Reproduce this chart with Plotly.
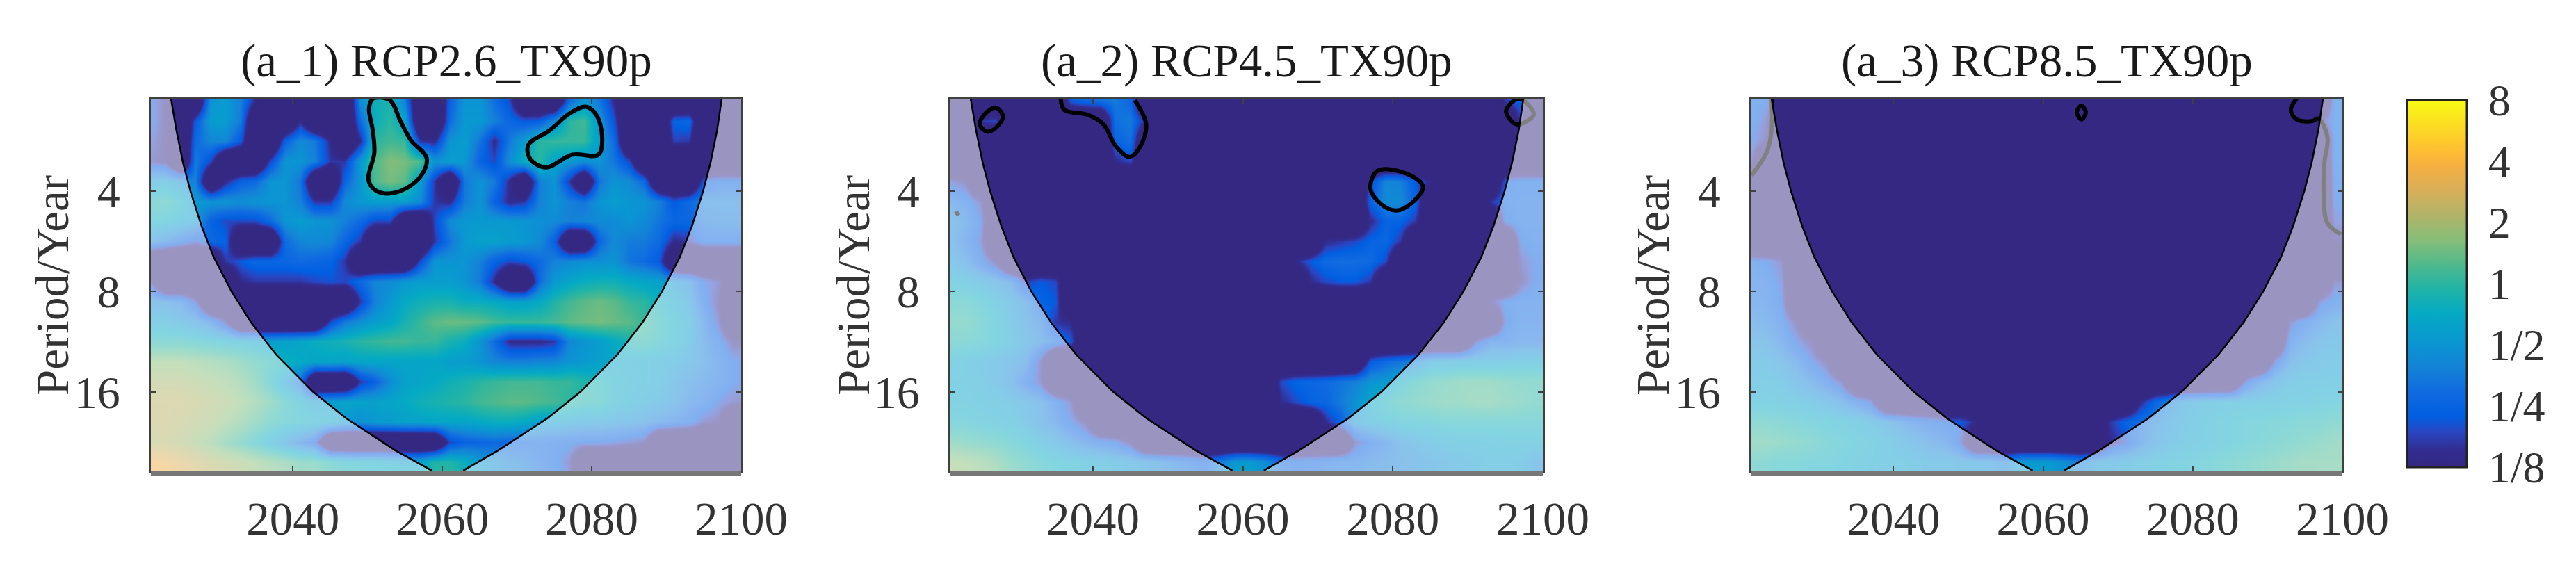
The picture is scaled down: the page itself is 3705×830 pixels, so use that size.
import numpy as np
import plotly.graph_objects as go

# log2 of wavelet power, rows = log2(period), columns = year
years = list(range(2021, 2101, 2))
log2_period = [1.1, 1.3, 1.5, 1.7, 1.9, 2.1, 2.3, 2.5, 2.7, 2.9, 3.1, 3.3, 3.5, 3.7, 3.9, 4.1, 4.3, 4.5, 4.7, 4.9]

power_26 = [
    [-2.2,-2.8,-3,-3,-1.0,-0.8,-1.4,-2.8,-3,-3,-3,-3,-3,-3,-1.2,-0.3,-0.2,-1.4,-3,-3,-2,-1,-1,-1.7,-2.4,-3,-3,-3,-1.8,-1.0,-1.6,-2.8,-3,-3,-3,-3,-3,-3,-3,-3],
    [-2.2,-2.8,-3,-2.2,-0.8,-0.8,-1.5,-3,-3,-3,-2.8,-3,-3,-3,-1.8,-0.4,0,-0.6,-3,-3,-1.8,-0.9,-0.9,-1.4,-1.9,-2.2,-2.1,-1.2,0,0.2,-1.0,-2.3,-3,-3,-3,-2.0,-1.9,-3,-3,-3],
    [-2.4,-2.8,-3,-1.8,-1.3,-1.3,-2.2,-3,-3,-2.0,-1.2,-1.5,-2.8,-3,-2.8,0,0.2,0.1,-2.6,-2.8,-1.0,-0.8,-1.6,-2.8,-1.5,-0.8,0,0.1,0.1,0.1,-0.8,-1.8,-3,-3,-3,-2.5,-2.6,-3,-3,-3],
    [-2.6,-2.8,-3,-1.5,-2.4,-3,-3,-3,-2.4,-1.0,-1.0,-1.4,-2.6,-2.6,-0.9,0.3,0.7,0.6,0.3,-1.0,-0.8,-0.9,-2.0,-2.4,-1.1,-0.4,0,-0.7,-0.9,-1.1,-1.0,-1.6,-2.4,-3,-3,-3,-3,-3,-3,-3],
    [-0.8,-0.8,-1.2,-1.4,-3,-2.8,-2,-1.8,-1,-1,-1.6,-3,-3,-1.9,-1.0,0.3,0.6,0.4,-0.8,-2.6,-3,-1.6,-1,-1.5,-2.8,-3,-1.4,-1,-2.6,-3,-1.6,-1.0,-1.2,-1.8,-3,-3,-3,-2.2,-2,-2],
    [-0.2,-0.1,-0.4,-0.9,-1,-1,-1.1,-1,-1,-1,-1.4,-2.6,-2.6,-1.2,-0.9,-0.8,-0.8,-0.8,-1.2,-2.6,-2.8,-1.5,-1,-2,-2.8,-2.6,-1.4,-1,-1.4,-1.6,-1,-0.8,-1,-1,-1.4,-2.2,-1.8,-1.4,-1.4,-1.4],
    [-0.4,-0.5,-0.7,-0.9,-2,-2.4,-2.4,-2.4,-1.8,-1,-0.8,-1,-1,-1.4,-1.8,-2.4,-2.4,-3,-3,-2.4,-1.2,-0.9,-0.9,-0.9,-0.9,-1,-1.1,-1.2,-1.4,-1.3,-1.2,-1.2,-1,-1.2,-1.6,-1.9,-1.9,-1.6,-1.5,-1.5],
    [-1.2,-1.6,-2.0,-2.4,-1.9,-2,-3,-3,-3,-1.8,-1.3,-1.2,-1.3,-1.9,-2.6,-3,-3,-3,-3,-2.6,-1.6,-0.9,-0.7,-0.7,-0.8,-0.9,-1.2,-2,-3,-3,-1.9,-1.2,-1.5,-1.5,-1.8,-2.8,-2.6,-2,-2,-2],
    [-3,-3,-3,-3,-3,-2.6,-2.2,-1.9,-1.9,-1.9,-1.8,-1.9,-2,-2.6,-3,-3,-3,-3,-2.4,-1,-1,-1,-1.4,-2,-2.4,-2.2,-1.8,-1.4,-1.2,-1.1,-1.1,-1,-1.6,-1.8,-2.2,-3,-3,-3,-3,-3],
    [-2.6,-3,-3,-3,-3,-3,-2.8,-2.6,-2.6,-2.6,-2.6,-2.4,-2.3,-2.4,-1.8,-1.3,-1.2,-0.9,-0.8,-0.8,-0.8,-1,-1.5,-2.8,-3,-3,-1.8,-0.9,-0.6,-0.4,-0.3,-0.3,-0.5,-0.6,-0.7,-1,-1.3,-2.2,-2.6,-3],
    [-1.2,-1.4,-1.6,-2.4,-3,-3,-3,-3,-3,-3,-3,-3,-3,-3,-2.6,-1.4,-0.9,-0.5,-0.3,-0.2,-0.2,-0.4,-0.4,-0.5,-0.7,-0.7,-0.5,-0.1,0.2,0.4,0.5,0.4,0.1,0,-0.4,-0.7,-1,-2,-2.8,-3],
    [-0.8,-0.8,-1,-1.2,-1.7,-2.6,-3,-3,-3,-3,-3,-3,-2.4,-1.5,-1.1,-0.8,-0.6,-0.2,0.1,0.4,0.5,0.5,0.4,0.2,0.1,0.1,0.1,0.2,0.4,0.5,0.6,0.5,0.4,0.1,-0.2,-0.5,-0.8,-1.6,-2.6,-3],
    [-0.2,-0.2,-0.2,-0.3,-0.4,-0.5,-0.6,-0.7,-0.8,-0.7,-0.6,-0.4,-0.3,-0.2,0,0.1,0.2,0.2,0.1,0.1,-0.2,-0.4,-1,-1.8,-2.8,-2.8,-2.8,-2.6,-1.3,-1,-0.8,-0.5,-0.2,-0.1,-0.3,-0.5,-0.9,-1.5,-2,-2.8],
    [0.7,0.7,0.7,0.6,0.5,0.4,0.2,0,-0.2,-0.4,-0.5,-0.6,-0.6,-0.7,-0.6,-0.6,-0.6,-0.6,-0.6,-0.6,-0.8,-0.8,-1,-1.3,-1.4,-1.4,-1.3,-1.3,-1,-0.9,-0.7,-0.6,-0.7,-0.7,-0.8,-0.9,-1.1,-1.4,-1.8,-2.2],
    [1.0,1.0,1.0,0.9,0.8,0.7,0.5,0.2,-0.3,-0.9,-1.7,-3,-3,-3,-2.6,-2,-1.2,-0.7,-0.6,-0.5,-0.3,-0.2,0,0.1,0.2,0.2,0.2,0.1,0.1,-0.1,-0.3,-0.5,-0.6,-0.7,-0.8,-1.1,-1.4,-1.6,-1.8,-2.2],
    [1.2,1.2,1.2,1.1,1.0,0.9,0.7,0.5,0.2,-0.2,-0.5,-0.9,-0.8,-0.6,-0.7,-0.7,-0.6,-0.5,-0.3,-0.2,-0.1,0,0.2,0.3,0.4,0.4,0.3,0.2,0,-0.2,-0.2,-0.5,-0.7,-0.9,-1,-1.2,-1.6,-1.8,-2.3,-2.6],
    [1.2,1.2,1.1,1.0,0.9,0.7,0.5,0.2,-0.1,-0.3,-0.4,-0.5,-0.6,-1,-1.1,-0.9,-0.8,-0.7,-0.7,-0.6,-0.6,-0.6,-0.5,-0.4,-0.4,-0.5,-0.8,-0.8,-0.9,-1,-1,-1.1,-1.2,-1.3,-1.6,-1.8,-2,-2.6,-2.8,-3],
    [1.1,1.1,1.0,0.8,0.6,0.3,0,-0.3,-0.7,-1.2,-1.7,-2.2,-3,-3,-3,-3,-3,-3,-3,-3,-2.4,-2,-1.9,-1.8,-1.9,-1.9,-1.9,-2,-2.1,-2.2,-2.2,-2.3,-2.5,-2.7,-3,-3,-3,-3,-3,-3],
    [1.8,1.7,1.5,1.3,1.1,1.0,0.9,0.7,0.5,0.4,0.1,0.1,-0.2,-0.4,-0.5,-0.5,-0.6,-0.7,-0.7,-0.1,-0.1,-0.4,-0.9,-1.2,-1.4,-1.5,-1.8,-2,-2.6,-3,-3,-3,-3,-3,-3,-3,-3,-3,-3,-3],
    [2.0,1.9,1.7,1.5,1.3,1.2,1.0,0.8,0.7,0.5,0.3,0.3,0,-0.2,-0.3,-0.3,-0.3,-0.3,-0.3,0.1,0.1,-0.2,-0.6,-1,-1.2,-1.3,-1.6,-1.8,-2.4,-2.8,-3,-3,-3,-3,-3,-3,-3,-3,-3,-3],
]

power_45 = [
    [-3]*8 + [-2.2,-1.9,-1.7,-1.5,-1.9] + [-3]*24 + [-2.6,-2.0,-3],
    [-3,-3,-2.6,-2.4] + [-3]*7 + [-1.7,-1.5,-2.8] + [-3]*24 + [-2.6,-3],
    [-3]*11 + [-2,-1.7] + [-3]*27,
    [-3]*11 + [-2.8,-2.4] + [-3]*27,
    [-2.4,-2.8] + [-3]*26 + [-2.4,-1.3,-1.4,-2.2,-2.8] + [-3]*4 + [-2.2,-2.0,-2.0],
    [-1.6,-1.9,-2.6] + [-3]*25 + [-2.0,-1.2,-1.2,-2.0] + [-3]*4 + [-2.6,-2,-1.9,-1.9],
    [-1.2,-1.6,-2.2] + [-3]*25 + [-2.8,-2.0,-2.0,-2.6] + [-3]*5 + [-2.2,-1.9,-1.9],
    [-1.3,-1.8,-2.4] + [-3]*22 + [-2.8,-2.6,-2.4,-2.0,-1.9,-2.6] + [-3]*7 + [-2.2,-2.0],
    [-1.0,-1.4,-2.0,-2.8] + [-3]*19 + [-2.8,-2.2,-1.8,-1.7,-1.7,-1.8,-2.4] + [-3]*8 + [-2.6,-2.2],
    [-0.6,-0.7,-0.9,-1.2,-1.5,-2.6,-2.2,-2.4] + [-3]*16 + [-2.8,-2.4,-2.2,-2.2,-2.6] + [-3]*9 + [-2.8,-2.2],
    [-0.2,-0.2,-0.4,-0.7,-1,-1.4,-2,-2.2] + [-3]*28 + [-2.7,-2.1,-1.9,-1.9],
    [0,0,-0.2,-0.5,-0.9,-1.3,-1.6,-2.6,-2.8] + [-3]*28 + [-2.3,-1.8,-1.8],
    [-0.2,-0.2,-0.3,-0.5,-0.8,-1.1,-1.4,-1.8,-2.2] + [-3]*26 + [-2.6,-1.8,-1.8,-1.7,-1.7],
    [-0.6,-0.7,-0.9,-1.0,-1.2,-1.4,-2.6] + [-3]*21 + [-2.2,-1.8,-1.6,-1.4,-0.9,-0.9,-0.8,-0.8,-0.8,-0.8,-0.7,-0.7],
    [-0.7,-0.7,-0.8,-1.0,-1.3,-2.0,-2.6] + [-3]*15 + [-2.4,-2,-1.9,-1.8,-1.6,-1.4,-1,-0.9,-0.5,-0.2,0,0.1,0.2,0.2,0.2,0.1,0,0],
    [-0.6,-0.6,-0.7,-0.8,-0.9,-1.1,-1.3,-1.9,-2.6] + [-3]*13 + [-2.8,-2.4,-2.0,-1.9,-1.5,-1.1,-0.6,-0.3,-0.1,0,0.1,0.2,0.2,0.3,0.3,0.2,0.1,0],
    [-0.4,-0.4,-0.5,-0.6,-0.7,-0.9,-1.3,-1.7,-2.2,-2.8] + [-3]*15 + [-2.8,-2.0,-1,-0.8,-0.6,-0.5,-0.4,-0.4,-0.3,-0.3,-0.3,-0.3,-0.3,-0.3,-0.3],
    [0.2,0.1,0,-0.1,-0.3,-0.5,-0.8,-1.0,-1.4,-1.7,-2,-2.2,-2.8] + [-3]*14 + [-2.6,-2,-1.7,-1.3,-1.1,-0.9,-0.8,-0.7,-0.7,-0.7,-0.6,-0.6,-0.6],
    [0.8,0.7,0.6,0.4,0.1,-0.1,-0.3,-0.5,-0.6,-0.7,-0.8,-0.9,-1,-1.2,-1.4,-1.6,-1.8,-2,-1.5,-0.9,-0.9,-1.2,-1.8,-2,-1.9,-1.8,-1.7,-1.7,-1.6,-1.5,-1.4,-1.3,-1.2,-1.1,-1.0,-0.9,-0.8,-0.8,-0.9,-1.2],
    [0.9,0.8,0.7,0.5,0.2,0,-0.2,-0.4,-0.5,-0.6,-0.7,-0.8,-0.9,-1.0,-1.2,-1.3,-1.4,-1.5,-1.0,-0.6,-0.6,-0.9,-1.5,-1.8,-1.7,-1.6,-1.5,-1.5,-1.4,-1.3,-1.2,-1.2,-1.1,-1,-0.9,-0.8,-0.7,-0.7,-0.8,-1.1],
]

power_85 = [
    [-2.0,-2.2] + [-3]*37 + [-2.0],
    [-2.0,-2.6] + [-3]*36 + [-2.8,-2.0],
    [-2.2,-2.8] + [-3]*37 + [-2.0],
    [-2.6] + [-3]*38 + [-2.0],
    [-3]*39 + [-2.1],
    [-3]*39 + [-2.2],
    [-3]*39 + [-2.4],
    [-3]*39 + [-2.8],
    [-2.0,-2.2,-2.6] + [-3]*37,
    [-1.8,-1.9,-2.4] + [-3]*36 + [-2.6],
    [-1.7,-1.8,-2.2] + [-3]*35 + [-2.4,-2.0],
    [-1.5,-1.6,-2.0,-2.8] + [-3]*32 + [-2.6,-2.0,-1.6,-1.3],
    [-1.2,-1.3,-1.7,-2.3,-2.8] + [-3]*31 + [-1.9,-1.5,-1.2,-1.1],
    [-0.9,-1.0,-1.2,-1.6,-2.2,-2.8] + [-3]*29 + [-2.4,-1.4,-1.1,-1.0,-0.9],
    [-0.8,-0.8,-0.9,-1.2,-1.5,-2,-2.6] + [-3]*26 + [-2.4,-1.6,-1.1,-0.9,-0.8,-0.8,-0.8],
    [-0.6,-0.6,-0.7,-0.8,-0.9,-1.1,-1.4,-1.9,-2.4] + [-3]*17 + [-2.8,-1.9,-1.4,-1.0,-0.9,-0.8,-0.7,-0.7,-0.7,-0.7,-0.6,-0.6,-0.5,-0.5],
    [-0.1,-0.1,-0.2,-0.3,-0.4,-0.5,-0.6,-0.7,-0.9,-1.2,-1.5,-1.8,-2,-2.2,-2.2,-2.8] + [-3]*8 + [-2.6,-2.0,-1.7,-1.4,-1.1,-0.9,-0.7,-0.6,-0.5,-0.4,-0.4,-0.3,-0.3,-0.2,-0.2,-0.1],
    [0.2,0.2,0.1,0,-0.1,-0.3,-0.4,-0.5,-0.6,-0.8,-1,-1.2,-1.5,-1.7,-2.4] + [-3]*9 + [-2.8,-2.4,-1.7,-1.2,-1.0,-0.8,-0.7,-0.6,-0.5,-0.4,-0.3,-0.2,-0.1,0,0.1,0.2],
    [-0.1,-0.2,-0.3,-0.3,-0.4,-0.4,-0.5,-0.6,-0.7,-0.8,-0.8,-0.9,-1,-1.0,-1.1,-1.1,-1.2,-1.4,-0.9,-0.9,-0.9,-1.2,-1.4,-1.1,-1,-0.9,-0.8,-0.7,-0.6,-0.5,-0.4,-0.3,-0.2,-0.1,0,0.1,0.2,0.3,0.3,0.3],
    [-0.2,-0.3,-0.4,-0.4,-0.5,-0.5,-0.6,-0.7,-0.7,-0.8,-0.8,-0.9,-1,-1,-1.1,-1.1,-1.1,-1.2,-0.8,-0.7,-0.7,-1.0,-1.2,-1,-0.9,-0.8,-0.7,-0.6,-0.5,-0.5,-0.4,-0.3,-0.2,-0.1,0,0.1,0.2,0.2,0.3,0.3],
]

# cone of influence
coi_period = [2.11, 2.61, 3.28, 4.0, 5.1, 6.3, 8, 9.9, 12.4, 16, 19.2, 24, 27.6]
coi_left = [2023.7, 2024.4, 2025.3, 2026.3, 2027.8, 2029.4, 2031.8, 2034.4, 2037.8, 2042.7, 2047.1, 2053.7, 2058.6]
coi_right = [2097.4, 2096.8, 2095.9, 2094.9, 2093.4, 2091.8, 2089.4, 2086.8, 2083.4, 2078.5, 2074.1, 2067.5, 2062.8]

# significance contours, (years, log2 period)
sig_26 = [
    ([2050.7, 2053.0, 2054.4, 2055.8, 2057.9, 2057.2, 2054.8, 2052.3, 2050.7, 2050.1, 2050.9, 2050.7, 2050.2, 2050.7],
     [1.076, 1.092, 1.299, 1.49, 1.666, 1.841, 1.984, 2.022, 1.968, 1.873, 1.618, 1.395, 1.172, 1.076]),
    ([2079.2, 2080.6, 2081.4, 2080.9, 2077.4, 2073.9, 2071.8, 2071.5, 2074.3, 2077.1, 2079.2],
     [1.156, 1.236, 1.459, 1.634, 1.634, 1.761, 1.682, 1.538, 1.395, 1.22, 1.156]),
]
sig_45 = [
    ([2027.1, 2028.0, 2027.1, 2025.9, 2024.9, 2025.7, 2027.1],
     [1.166, 1.252, 1.363, 1.404, 1.331, 1.22, 1.166]),
    ([2035.7, 2036.2, 2039.3, 2041.4, 2043.1, 2044.9, 2046.3, 2047.1, 2045.6],
     [1.076, 1.188, 1.236, 1.331, 1.554, 1.656, 1.554, 1.331, 1.092]),
    ([2078.0, 2081.9, 2084.0, 2082.6, 2080.5, 2078.4, 2077.0, 2078.0],
     [1.793, 1.825, 1.952, 2.111, 2.191, 2.127, 1.968, 1.793]),
    ([2096.2, 2095.1, 2096.5, 2098.8, 2097.9, 2097.0, 2096.2],
     [1.092, 1.204, 1.331, 1.236, 1.124, 1.076, 1.092]),
    ([2021.7, 2022.1], [2.2, 2.24]),
]
sig_85 = [
    ([2065.1, 2065.7, 2065.1, 2064.5, 2065.1], [1.146, 1.21, 1.283, 1.21, 1.146]),
    ([2093.9, 2093.1, 2093.9, 2096.0, 2096.8, 2098.0, 2097.6, 2097.5, 2098.0, 2099.8],
     [1.076, 1.188, 1.283, 1.299, 1.274, 1.459, 1.713, 2.032, 2.318, 2.43]),
    ([2023.7, 2023.7, 2023.0, 2021.0], [1.076, 1.395, 1.618, 1.841]),
]

titles = ["(a_1) RCP2.6_TX90p", "(a_2) RCP4.5_TX90p", "(a_3) RCP8.5_TX90p"]
powers = [power_26, power_45, power_85]
sigs = [sig_26, sig_45, sig_85]

# page body has an 8px margin, so figure pixels are picture pixels minus 8
PAD = 8
W, H = 3705 - PAD, 830 - PAD
x_domains = [(209, 1058), (1359, 2211), (2511, 3361)]
ytitle_x = [67, 1219, 2369]
TOP, BOTTOM = 134, 669
FONT = "Liberation Serif"
FS = 67
xlim = [2021, 2100]
ylim = [4.787, 1.076]

parula = [
    [0.0, "rgb(53,40,130)"], [0.048, "rgb(50,45,145)"], [0.097, "rgb(40,70,195)"],
    [0.138, "rgb(0,95,225)"], [0.2, "rgb(15,105,225)"], [0.27, "rgb(20,130,215)"],
    [0.338, "rgb(10,150,210)"], [0.42, "rgb(5,170,195)"], [0.49, "rgb(35,180,165)"],
    [0.552, "rgb(80,185,140)"], [0.62, "rgb(135,190,120)"], [0.683, "rgb(175,180,105)"],
    [0.752, "rgb(215,175,90)"], [0.82, "rgb(245,175,65)"], [0.862, "rgb(254,190,50)"],
    [1.0, "rgb(249,251,20)"],
]

fig = go.Figure()
coi_y = np.log2(coi_period)
layout_axes = {}
shapes = []
annotations = []

for k in range(3):
    sfx = "" if k == 0 else str(k + 1)
    xa, ya = "x" + sfx, "y" + sfx
    z = np.array(powers[k])
    # cells at the floor of the scale lie well under 1/8 in the source
    z = np.where(z <= -3, -4.5, z)
    fig.add_trace(go.Heatmap(x=years, y=log2_period, z=z, coloraxis="coloraxis",
                             zsmooth="best", xaxis=xa, yaxis=ya, hoverinfo="skip"))
    for sx, sy in sigs[k]:
        fig.add_trace(go.Scatter(x=sx, y=sy, mode="lines", xaxis=xa, yaxis=ya, showlegend=False, cliponaxis=False,
                                 line=dict(color="black", width=6, shape="spline"), hoverinfo="skip"))
    # white veil outside the cone of influence
    for edge, side in ((coi_left, xlim[0]), (coi_right, xlim[1])):
        fig.add_trace(go.Scatter(x=[side] + edge + [edge[-1], side], y=[ylim[1]] + list(coi_y) + [ylim[0], ylim[0]],
                                 mode="lines", fill="toself", fillcolor="rgba(255,255,255,0.5)",
                                 line=dict(width=0), xaxis=xa, yaxis=ya, showlegend=False, hoverinfo="skip"))
        fig.add_trace(go.Scatter(x=edge, y=coi_y, mode="lines", line=dict(color="black", width=2.5),
                                 xaxis=xa, yaxis=ya, showlegend=False, hoverinfo="skip"))

    d = x_domains[k]
    layout_axes["xaxis" + sfx] = dict(
        domain=[d[0] / W, d[1] / W], range=xlim, anchor=ya, tickvals=[2040, 2060, 2080, 2100],
        ticks="inside", ticklen=7, tickwidth=2, tickcolor="#404040", showline=True, linecolor="#404040",
        linewidth=3, mirror="ticks", showgrid=False, zeroline=False, ticklabelstandoff=9,
        tickfont=dict(family=FONT, size=FS, color="#333333"))
    layout_axes["yaxis" + sfx] = dict(
        domain=[1 - BOTTOM / H, 1 - TOP / H], range=ylim, anchor=xa, tickvals=[2, 3, 4],
        ticktext=["4", "8", "16"], ticks="inside", ticklen=7, tickwidth=2, tickcolor="#404040",
        showline=True, linecolor="#404040", linewidth=3, mirror="ticks", showgrid=False, zeroline=False,
        ticklabelstandoff=28, tickfont=dict(family=FONT, size=66, color="#333333"))
    # grey rule under the frame
    shapes.append(dict(type="rect", xref=xa + " domain", yref=ya + " domain", x0=0, x1=1, ysizemode="pixel",
                       yanchor=0, y0=-1, y1=-7, fillcolor="#777777", line=dict(width=0)))
    annotations.append(dict(text=titles[k], xref=xa + " domain", yref=ya + " domain", x=0.5, y=1, yanchor="bottom",
                            xanchor="center", yshift=15, showarrow=False,
                            font=dict(family=FONT, size=FS, color="#1a1a1a")))
    annotations.append(dict(text="Period/Year", xref="paper", yref="paper", x=ytitle_x[k] / W, y=1 - 403 / H,
                            xanchor="center", yanchor="middle", textangle=-90, showarrow=False,
                            font=dict(family=FONT, size=FS, color="#333333")))

fig.update_layout(
    width=W, height=H, autosize=False, margin=dict(l=0, r=0, t=0, b=0, autoexpand=False),
    paper_bgcolor="white", plot_bgcolor="white", showlegend=False,
    shapes=shapes, annotations=annotations,
    coloraxis=dict(
        cmin=-3, cmax=3, colorscale=parula,
        colorbar=dict(x=3454 / W, xanchor="left", y=1 - 136 / H, yanchor="top", thickness=86, thicknessmode="pixels",
                      len=528 / H, lenmode="fraction", outlinecolor="#222222", outlinewidth=3,
                      ticks="outside", ticklen=17, tickcolor="rgba(0,0,0,0)",
                      tickvals=[-3, -2, -1, 0, 1, 2, 3], ticktext=["1/8", "1/4", "1/2", "1", "2", "4", "8"],
                      ticklabelposition="outside", xpad=0, ypad=0,
                      tickfont=dict(family=FONT, size=64, color="#333333"))),
    **layout_axes,
)

fig.write_html("out.html")
